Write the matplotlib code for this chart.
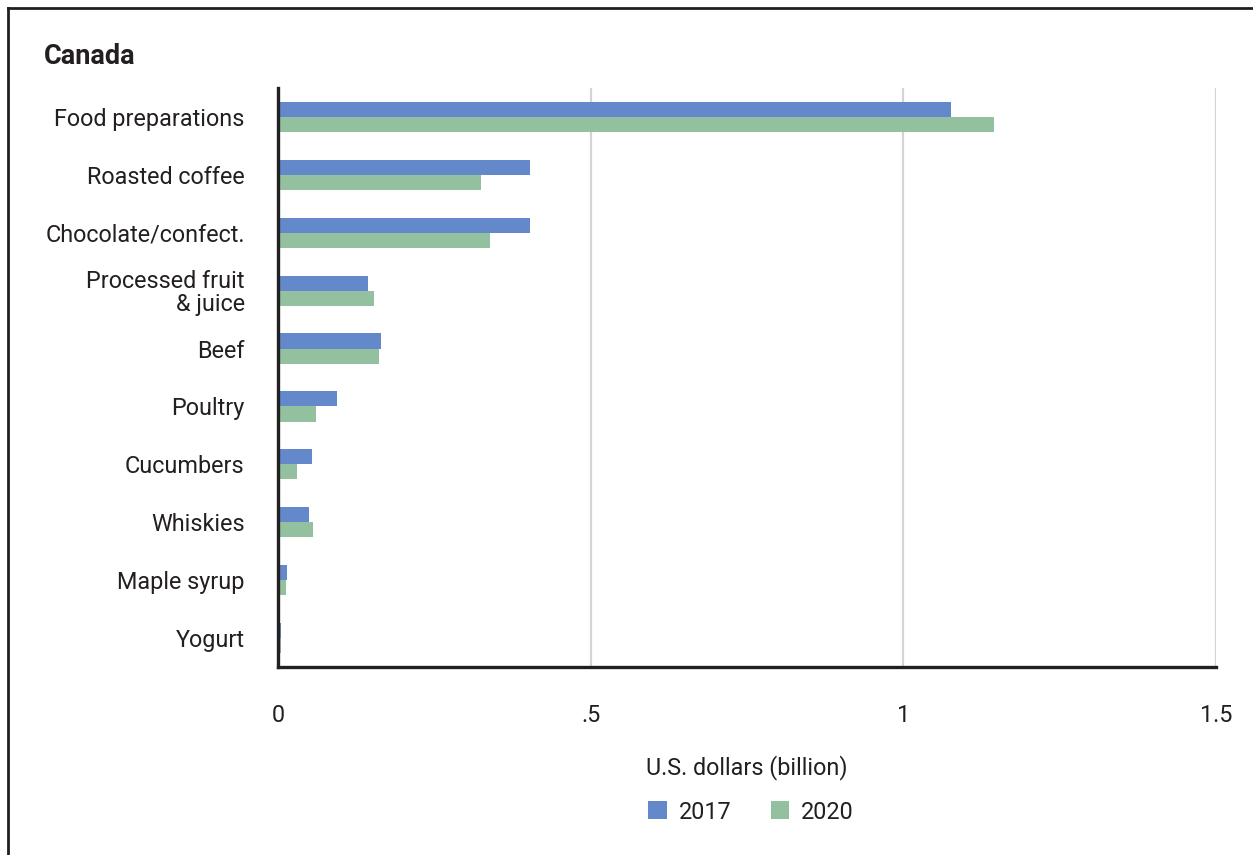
import matplotlib.pyplot as plt
from matplotlib.lines import Line2D
import numpy as np

plt.rcParams['font.family'] = ['Roboto', 'DejaVu Sans']

categories = ['Food preparations', 'Roasted coffee', 'Chocolate/confect.',
              'Processed fruit\n& juice', 'Beef', 'Poultry', 'Cucumbers',
              'Whiskies', 'Maple syrup', 'Yogurt']
vals_2017 = [1.076, 0.403, 0.403, 0.144, 0.165, 0.095, 0.054, 0.050, 0.014, 0.005]
vals_2020 = [1.145, 0.325, 0.339, 0.154, 0.162, 0.061, 0.031, 0.056, 0.013, 0.004]
xticks = [0, 0.5, 1, 1.5]
xtick_labels = ['0', '.5', '1', '1.5']

BLUE = '#6389ca'
GREEN = '#93c19f'
TXT = '#231f20'
FS = 16.8

fig = plt.figure(figsize=(12.53, 8.55), dpi=100)
fig.patch.set_facecolor('white')
W, H = 1253, 855
ax = fig.add_axes([278 / W, 1 - 667 / H, (1215.7 - 278) / W, (667 - 88) / H])

y = np.arange(len(categories))
h = 0.26
ax.barh(y - h / 2, vals_2017, h, color=BLUE, label='2017', zorder=3)
ax.barh(y + h / 2, vals_2020, h, color=GREEN, label='2020', zorder=3)

ax.set_ylim(len(categories) - 0.5, -0.5)
ax.set_xlim(0, 1.5)
ax.set_yticks(y)
ax.set_yticklabels(categories, fontsize=FS, color=TXT, linespacing=1.0)
ax.set_xticks(xticks)
ax.set_xticklabels(xtick_labels, fontsize=FS, color=TXT)
ax.tick_params(axis='y', length=0, pad=24)
ax.tick_params(axis='x', length=0, pad=27)
for lbl in ax.get_yticklabels():
    lbl.set_multialignment('right')

ax.grid(axis='x', color='#d4d4d4', lw=1.6, zorder=0)
for s in ['top', 'right']:
    ax.spines[s].set_visible(False)
for s in ['left', 'bottom']:
    ax.spines[s].set_color('#231f20')
    ax.spines[s].set_linewidth(2.4)
    ax.spines[s].set_zorder(4)

ax.set_xlabel('U.S. dollars (billion)', fontsize=FS, color=TXT, labelpad=20)

fig.text(44 / W, 1 - 57 / H, 'Canada', fontsize=19.5, fontweight='bold',
         color=TXT, va='center', ha='left')

fig.legend(loc='center', bbox_to_anchor=(751 / W, 1 - 812 / H), ncol=2,
           frameon=False, fontsize=FS, handlelength=0.8, handleheight=0.8,
           handletextpad=0.5, columnspacing=1.7, labelcolor=TXT)

# outer frame: top and left edges only
fig.add_artist(Line2D([8 / W, 1], [1 - 8 / H, 1 - 8 / H], color='#231f20',
                      lw=2.0, transform=fig.transFigure))
fig.add_artist(Line2D([8 / W, 8 / W], [0, 1 - 8 / H], color='#231f20',
                      lw=2.0, transform=fig.transFigure))

fig.savefig('out.png', dpi=100, facecolor='white')
